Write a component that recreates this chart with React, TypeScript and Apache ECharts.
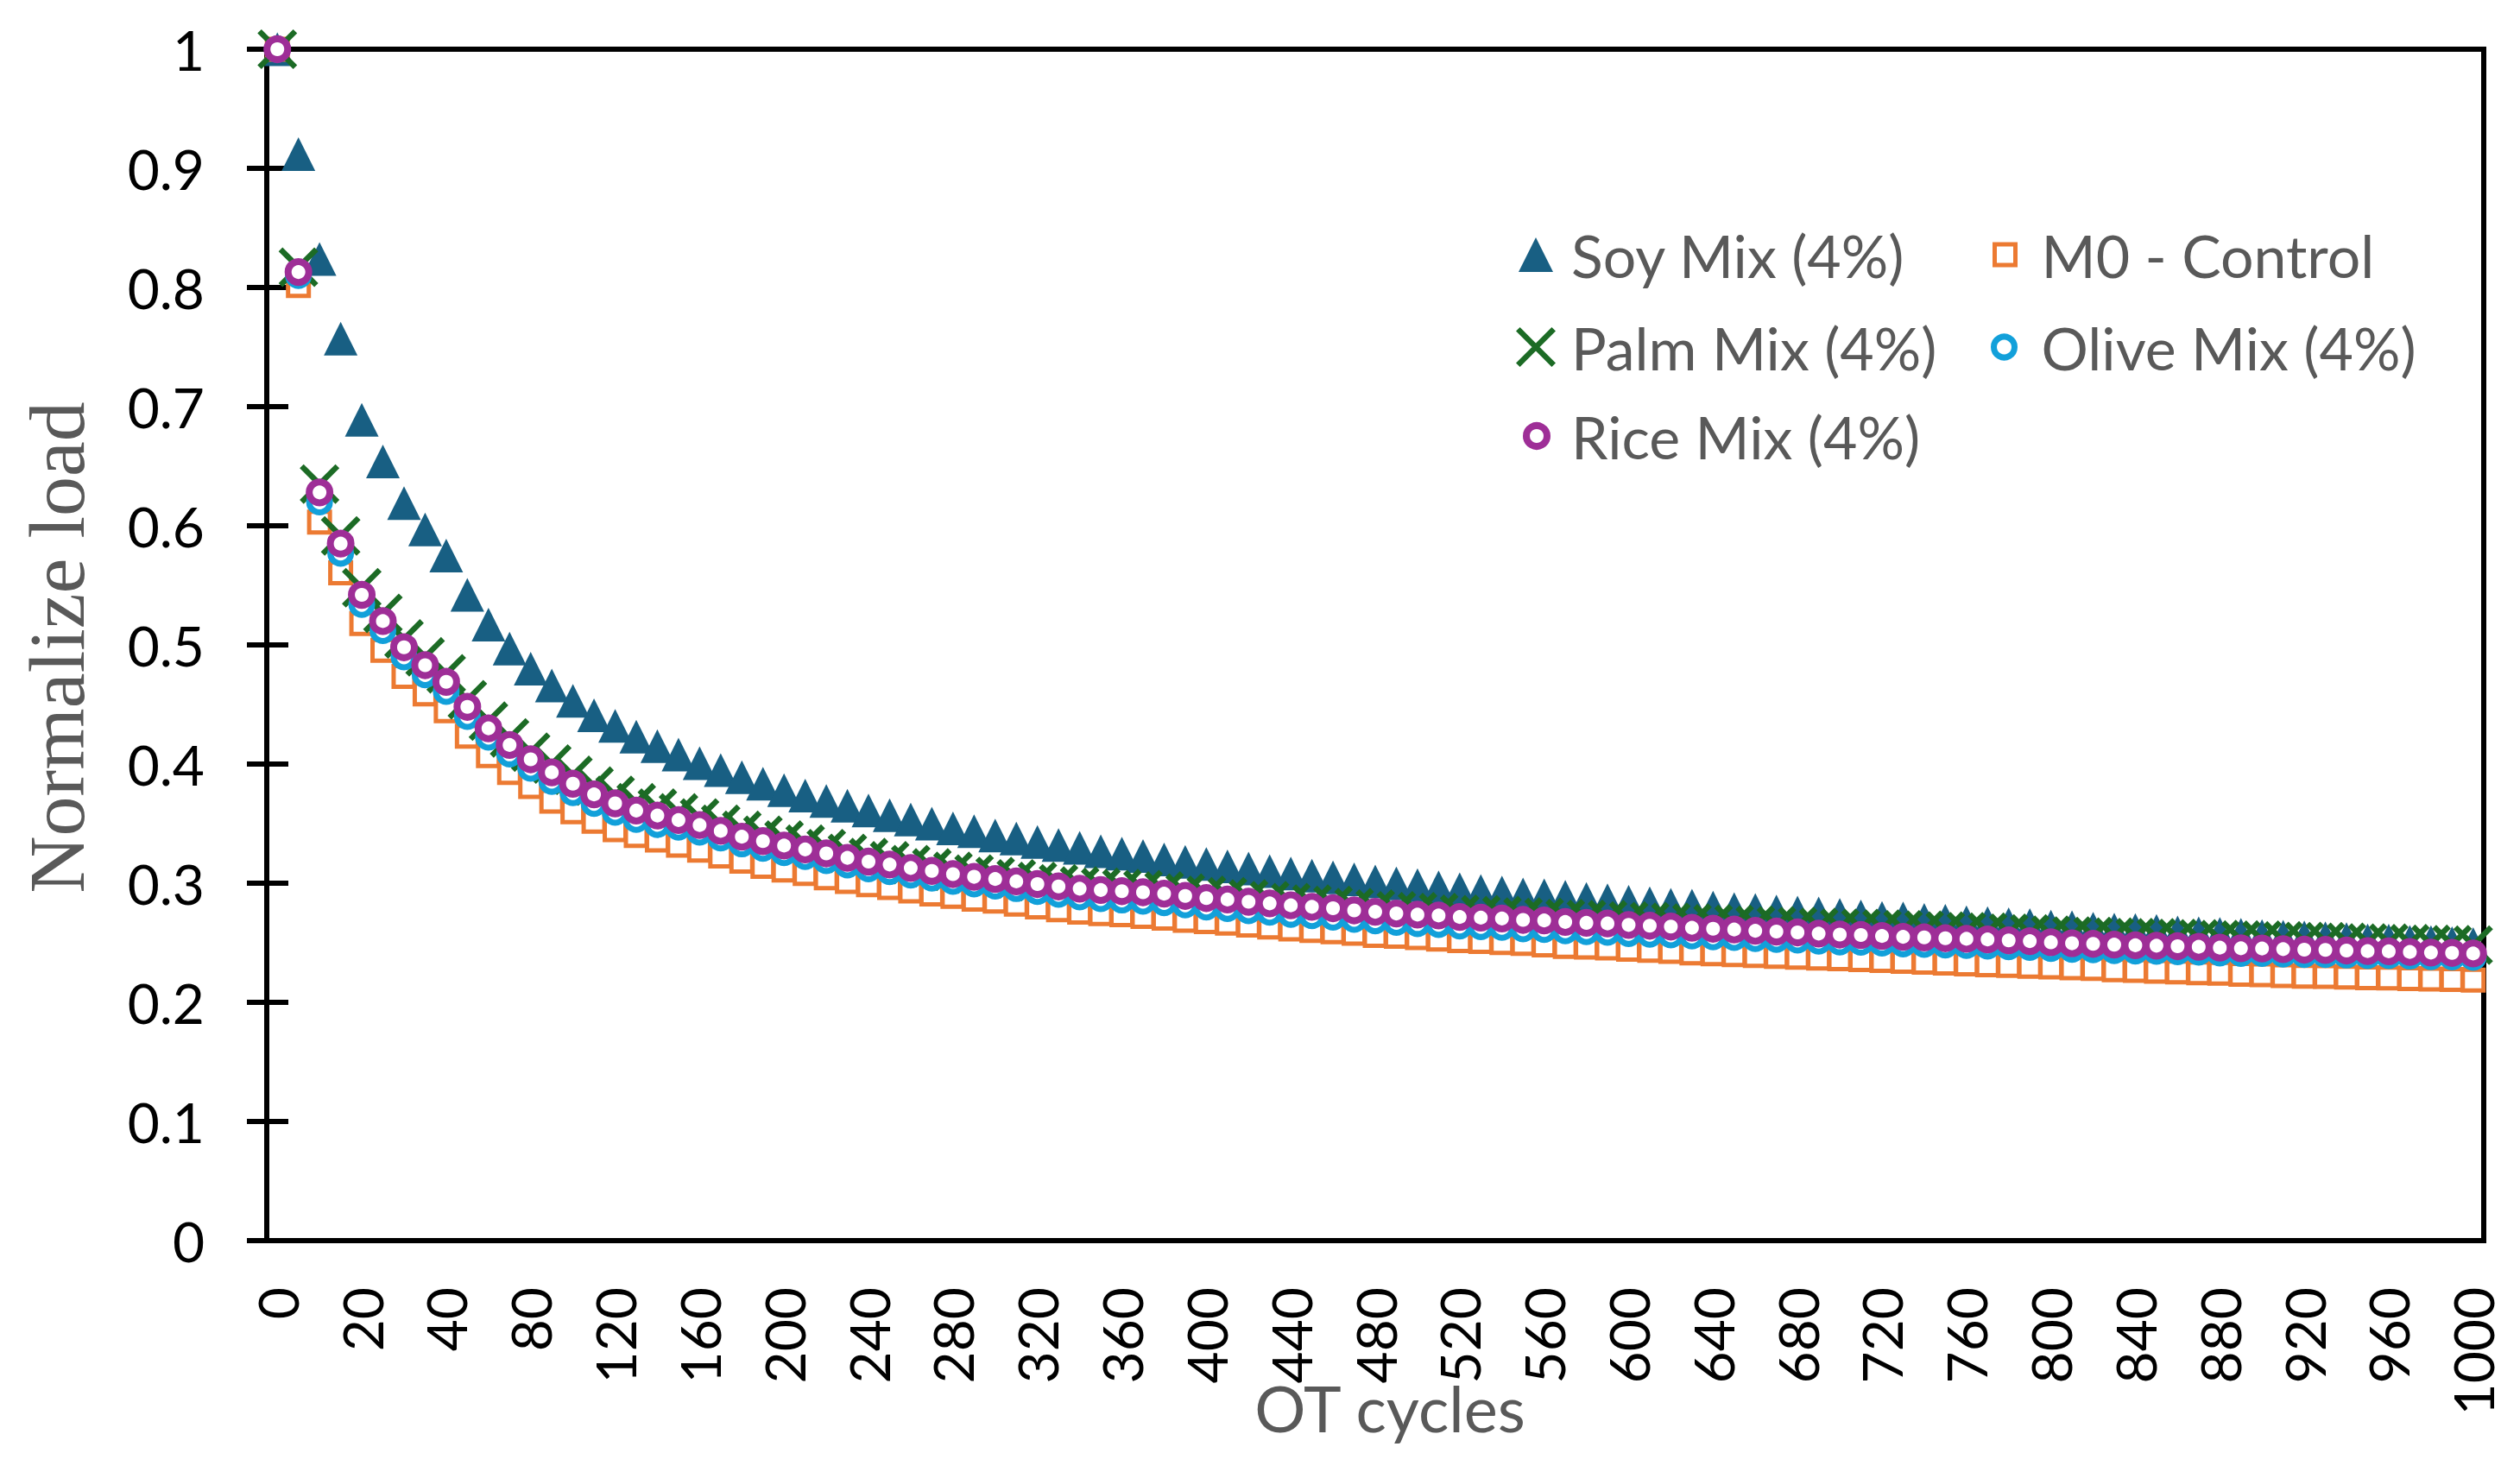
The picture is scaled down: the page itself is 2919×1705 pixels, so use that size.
import { useEffect, useRef } from 'react';
import * as echarts from 'echarts';

// OT cycles (category axis: step 5 up to 40, then step 10)
const cycles = [
  0, 5, 10, 15, 20, 25, 30, 35, 40, 50, 60, 70, 80, 90, 100, 110, 120, 130, 140, 150,
  160, 170, 180, 190, 200, 210, 220, 230, 240, 250, 260, 270, 280, 290, 300, 310, 320, 330, 340, 350,
  360, 370, 380, 390, 400, 410, 420, 430, 440, 450, 460, 470, 480, 490, 500, 510, 520, 530, 540, 550,
  560, 570, 580, 590, 600, 610, 620, 630, 640, 650, 660, 670, 680, 690, 700, 710, 720, 730, 740, 750,
  760, 770, 780, 790, 800, 810, 820, 830, 840, 850, 860, 870, 880, 890, 900, 910, 920, 930, 940, 950,
  960, 970, 980, 990, 1000,
];

const soyMix = [
  1.0, 0.912, 0.824, 0.757, 0.689, 0.654, 0.619, 0.597, 0.575, 0.542, 0.517, 0.497, 0.48, 0.466, 0.453, 0.441, 0.432, 0.423, 0.415, 0.408,
  0.4007, 0.395, 0.389, 0.3835, 0.378, 0.3735, 0.369, 0.365, 0.361, 0.357, 0.3534, 0.35, 0.346, 0.3437, 0.34, 0.3375, 0.3346, 0.332, 0.3297, 0.3268,
  0.3248, 0.3228, 0.3199, 0.3179, 0.3162, 0.3142, 0.3123, 0.3101, 0.3081, 0.3064, 0.3049, 0.3032, 0.3015, 0.2998, 0.2983, 0.2966, 0.2949, 0.2934, 0.2922, 0.2905,
  0.2898, 0.2885, 0.2868, 0.2856, 0.2844, 0.2831, 0.2819, 0.2812, 0.2795, 0.2782, 0.2775, 0.2763, 0.2753, 0.2746, 0.2733, 0.2721, 0.2709, 0.2704, 0.2692, 0.2684,
  0.2672, 0.2665, 0.2655, 0.2648, 0.2636, 0.2631, 0.2618, 0.2611, 0.2606, 0.2599, 0.2587, 0.2579, 0.2574, 0.2567, 0.2557, 0.255, 0.2545, 0.2538, 0.253, 0.252,
  0.2518, 0.2508, 0.2506, 0.2496, 0.2489,
];

const m0Control = [
  1.0, 0.8016, 0.603, 0.5605, 0.518, 0.4954, 0.4735, 0.4588, 0.4447, 0.4233, 0.407, 0.393, 0.3811, 0.3689, 0.36, 0.352, 0.345, 0.34, 0.3363, 0.3319,
  0.3277, 0.3228, 0.3184, 0.3142, 0.3111, 0.3081, 0.3045, 0.3015, 0.2988, 0.2964, 0.2934, 0.291, 0.289, 0.2866, 0.2849, 0.2825, 0.28, 0.2778, 0.2758, 0.2745,
  0.2735, 0.2721, 0.2707, 0.2689, 0.2677, 0.2665, 0.2648, 0.2633, 0.2616, 0.2604, 0.2592, 0.2579, 0.2562, 0.2555, 0.2543, 0.253, 0.2518, 0.2511, 0.2501, 0.2494,
  0.2481, 0.2469, 0.2464, 0.2457, 0.2445, 0.2437, 0.2428, 0.2415, 0.2408, 0.24, 0.2393, 0.2386, 0.2378, 0.2371, 0.2366, 0.2359, 0.2351, 0.2344, 0.2337, 0.2329,
  0.2322, 0.2315, 0.231, 0.2302, 0.2297, 0.229, 0.2285, 0.2273, 0.2268, 0.2261, 0.2256, 0.2249, 0.2244, 0.2236, 0.2231, 0.2224, 0.2219, 0.2217, 0.2212, 0.2207,
  0.2204, 0.22, 0.2195, 0.2192, 0.2187,
];

const palmMix = [
  1.0, 0.817, 0.635, 0.5915, 0.548, 0.5265, 0.505, 0.49, 0.4758, 0.454, 0.436, 0.422, 0.41, 0.4, 0.3905, 0.3815, 0.3738, 0.3675, 0.363, 0.359,
  0.3548, 0.3495, 0.3443, 0.3403, 0.3362, 0.3327, 0.329, 0.325, 0.3215, 0.3188, 0.3156, 0.3128, 0.3099, 0.3076, 0.3057, 0.3037, 0.3015, 0.2995, 0.2976, 0.2965,
  0.2955, 0.2946, 0.2934, 0.2916, 0.2898, 0.2886, 0.2867, 0.2854, 0.2837, 0.2825, 0.2813, 0.2795, 0.2783, 0.2769, 0.276, 0.2753, 0.274, 0.2735, 0.2728, 0.2716,
  0.2712, 0.2702, 0.2696, 0.2693, 0.2683, 0.2678, 0.2673, 0.2665, 0.2659, 0.2654, 0.2646, 0.2641, 0.2636, 0.2628, 0.2622, 0.262, 0.2614, 0.2609, 0.2605, 0.2598,
  0.2593, 0.2588, 0.258, 0.2574, 0.2564, 0.2557, 0.2553, 0.2547, 0.2543, 0.2541, 0.2537, 0.2533, 0.2527, 0.2523, 0.2522, 0.2516, 0.2511, 0.2509, 0.2504, 0.2499,
  0.2497, 0.2492, 0.2487, 0.2484, 0.248,
];

const oliveMix = [
  1.0, 0.81, 0.62, 0.577, 0.534, 0.512, 0.49, 0.475, 0.461, 0.44, 0.4225, 0.4085, 0.3965, 0.3855, 0.376, 0.367, 0.3595, 0.3535, 0.3493, 0.347,
  0.3428, 0.3379, 0.333, 0.3293, 0.3256, 0.3224, 0.319, 0.3153, 0.3121, 0.3097, 0.3068, 0.3043, 0.3016, 0.2994, 0.2975, 0.2955, 0.293, 0.2907, 0.2885, 0.2871,
  0.2859, 0.2849, 0.2837, 0.2818, 0.28, 0.2788, 0.2769, 0.2756, 0.2739, 0.2727, 0.2715, 0.2697, 0.2685, 0.2671, 0.2661, 0.2654, 0.2641, 0.2636, 0.2629, 0.2617,
  0.2612, 0.26, 0.2593, 0.2589, 0.2578, 0.2572, 0.2566, 0.2557, 0.255, 0.2544, 0.2535, 0.2529, 0.2523, 0.2514, 0.2507, 0.2504, 0.2497, 0.2491, 0.2487, 0.2481,
  0.2477, 0.2473, 0.2466, 0.2461, 0.2452, 0.2445, 0.2441, 0.2435, 0.2431, 0.2429, 0.2425, 0.2421, 0.2415, 0.2411, 0.241, 0.2406, 0.2402, 0.2401, 0.2397, 0.2393,
  0.2392, 0.2388, 0.2384, 0.2382, 0.2378,
];

const riceMix = [
  1.0, 0.813, 0.628, 0.585, 0.542, 0.52, 0.498, 0.483, 0.469, 0.448, 0.43, 0.416, 0.404, 0.393, 0.3835, 0.3745, 0.367, 0.361, 0.3568, 0.353,
  0.3488, 0.3439, 0.339, 0.3353, 0.3316, 0.3284, 0.325, 0.3213, 0.3181, 0.3157, 0.3128, 0.3103, 0.3076, 0.3054, 0.3035, 0.3015, 0.2993, 0.2973, 0.2954, 0.2943,
  0.2933, 0.2924, 0.2912, 0.2893, 0.2875, 0.2863, 0.2844, 0.2831, 0.2814, 0.2802, 0.279, 0.2772, 0.276, 0.2746, 0.2736, 0.2729, 0.2716, 0.2711, 0.2704, 0.2692,
  0.2687, 0.2675, 0.2667, 0.2662, 0.265, 0.2643, 0.2636, 0.2626, 0.2618, 0.2611, 0.2601, 0.2594, 0.2587, 0.2577, 0.2569, 0.2565, 0.2557, 0.255, 0.2545, 0.2538,
  0.2533, 0.2528, 0.252, 0.2514, 0.2504, 0.2496, 0.2491, 0.2484, 0.2479, 0.2476, 0.2471, 0.2466, 0.2459, 0.2454, 0.2452, 0.2447, 0.2442, 0.244, 0.2435, 0.243,
  0.2428, 0.2423, 0.2418, 0.2415, 0.241,
];

const COLORS = {
  soy: '#185F83',
  m0: '#EC7A32',
  palm: '#1C6B25',
  olive: '#12A0DA',
  rice: '#9E2E97',
};

const X_MARK = 'path://M10,0L100,90L90,100L0,10ZM90,0L100,10L10,100L0,90Z';
const FONT = 'Lato';
const GREY = '#595959';

// one legend per entry so the two-column Excel layout can be placed exactly
function legendFor(name: string, left: number, cy: number, size: number, pad: number, borderWidth?: number) {
  return {
    data: [borderWidth ? { name, itemStyle: { borderWidth } } : { name }],
    orient: 'vertical',
    left,
    top: cy - 37,
    padding: 0,
    itemWidth: size,
    itemHeight: size,
    selectedMode: false,
    textStyle: { fontFamily: FONT, fontSize: 68, color: GREY, lineHeight: 74, padding: [0, 0, 0, pad] },
  };
}

export default function App() {
  const chartRef = useRef<HTMLDivElement>(null);

  useEffect(() => {
    document.body.style.margin = '0';
    if (!chartRef.current) return;
    const chart = echarts.init(chartRef.current, undefined, { renderer: 'svg' });

    const option: any = {
      animation: false,
      backgroundColor: '#fff',
      grid: {
        left: 309,
        top: 57,
        width: 2568,
        height: 1380,
        show: true,
        borderColor: '#000',
        borderWidth: 6,
      },
      legend: [
        legendFor('Soy Mix (4%)', 1759, 295, 40, 16),
        legendFor('Palm Mix (4%)', 1756, 402, 46, 13),
        legendFor('Rice Mix (4%)', 1764, 505, 24, 23, 8),
        legendFor('M0 - Control', 2308, 295, 24, 25, 5),
        legendFor('Olive Mix (4%)', 2306, 402, 24, 26, 7),
      ],
      xAxis: {
        type: 'category',
        data: cycles.map(String),
        boundaryGap: true,
        axisLine: { lineStyle: { color: '#000', width: 6 } },
        axisTick: { show: false },
        axisLabel: {
          rotate: 90,
          interval: 3,
          margin: 54,
          fontFamily: FONT,
          fontSize: 64,
          color: '#000',
        },
        splitLine: { show: false },
      },
      yAxis: [
        {
          type: 'value',
          position: 'left',
          min: 0,
          max: 1,
          interval: 0.1,
          axisLine: { show: true, lineStyle: { color: '#000', width: 6 } },
          axisTick: { show: true, inside: false, length: 23, lineStyle: { color: '#000', width: 6 } },
          axisLabel: { margin: 72, fontFamily: FONT, fontSize: 64, color: '#000' },
          splitLine: { show: false },
        },
        {
          type: 'value',
          position: 'left',
          min: 0,
          max: 1,
          interval: 0.1,
          axisLine: { show: false },
          axisTick: { show: true, inside: true, length: 25, lineStyle: { color: '#000', width: 6 } },
          axisLabel: { show: false },
          splitLine: { show: false },
        },
      ],
      series: [
        {
          name: 'Soy Mix (4%)',
          type: 'scatter',
          data: soyMix,
          symbol: 'triangle',
          symbolSize: 39,
          itemStyle: { color: COLORS.soy, opacity: 1 },
        },
        {
          name: 'M0 - Control',
          type: 'scatter',
          data: m0Control,
          symbol: 'rect',
          symbolSize: 24,
          itemStyle: { color: '#fff', borderColor: COLORS.m0, borderWidth: 5, opacity: 1 },
        },
        {
          name: 'Palm Mix (4%)',
          type: 'scatter',
          data: palmMix,
          symbol: X_MARK,
          symbolSize: 46,
          itemStyle: { color: COLORS.palm, opacity: 1 },
        },
        {
          name: 'Olive Mix (4%)',
          type: 'scatter',
          data: oliveMix,
          symbol: 'circle',
          symbolSize: 24,
          itemStyle: { color: '#fff', borderColor: COLORS.olive, borderWidth: 7, opacity: 1 },
        },
        {
          name: 'Rice Mix (4%)',
          type: 'scatter',
          data: riceMix,
          symbol: 'circle',
          symbolSize: 24,
          itemStyle: { color: '#fff', borderColor: COLORS.rice, borderWidth: 8, opacity: 1 },
        },
      ],
      graphic: [
        {
          type: 'text',
          x: 66,
          y: 750,
          rotation: Math.PI / 2,
          style: {
            text: 'Normalize load',
            font: '92px "Liberation Serif"',
            fill: GREY,
            textAlign: 'center',
            textVerticalAlign: 'middle',
          },
        },
        {
          type: 'text',
          x: 1610,
          y: 1630,
          style: {
            text: 'OT cycles',
            font: `74px ${FONT}`,
            fill: GREY,
            textAlign: 'center',
            textVerticalAlign: 'middle',
          },
        },
      ],
    };

    chart.setOption(option);

    return () => {
      chart.dispose();
    };
  }, []);

  return <div ref={chartRef} style={{ width: '2919px', height: '1705px' }} />;
}
